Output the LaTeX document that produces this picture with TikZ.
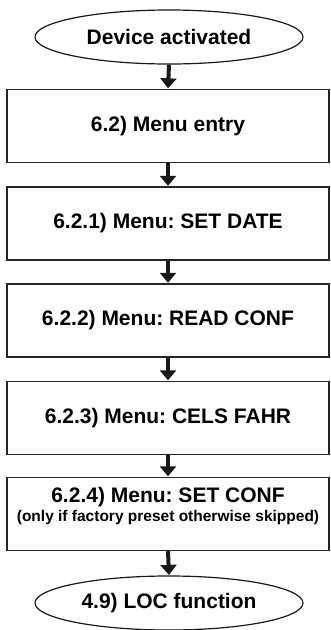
\documentclass[tikz,border=0pt]{standalone}
\usepackage{fontspec}
\setmainfont{Liberation Sans}
\usetikzlibrary{shapes.geometric,arrows.meta}
\frenchspacing
\begin{document}
\frenchspacing
\begin{tikzpicture}[x=1pt,y=-1pt,
  stepbox/.style={draw=black!85, line width=1.4pt, rectangle, minimum width=322pt, minimum height=73pt, inner sep=0pt, font=\bfseries\fontsize{21}{25}\selectfont, align=center},
  term/.style={draw=black!90, line width=1.2pt, ellipse, minimum width=268pt, minimum height=54pt, inner sep=0pt, font=\bfseries\fontsize{21}{25}\selectfont},
  flow/.style={line width=4pt, -{Triangle[width=16pt,length=10pt]}, black!90, shorten >=0.5pt}
]
\useasboundingbox (0,0) rectangle (330,630);
\node[term] (start) at (169,37) {Device activated};
\node[stepbox] (b1) at (168,126) {6.2) Menu entry};
\node[stepbox] (b2) at (168,223.5) {6.2.1) Menu: SET DATE};
\node[stepbox] (b3) at (168,320.5) {6.2.2) Menu: READ CONF};
\node[stepbox] (b4) at (168,418) {6.2.3) Menu: CELS FAHR};
\node[stepbox] (b5) at (168,514) {};
\node[font=\bfseries\fontsize{21}{25}\selectfont, inner sep=0pt] (t5a) at (168,497) {6.2.4) Menu: SET CONF};
\node[font=\bfseries\fontsize{15.5}{18}\selectfont, inner sep=0pt] (t5b) at (168,517) {(only if factory preset otherwise skipped)};
\node[term] (end) at (169,603) {4.9) LOC function};
\draw[flow] (start.south) -- (b1.north);
\draw[flow] (b1.south) -- (b2.north);
\draw[flow] (b2.south) -- (b3.north);
\draw[flow] (b3.south) -- (b4.north);
\draw[flow] (b4.south) -- (b5.north);
\draw[flow] (b5.south) -- (end.north);
\end{tikzpicture}
\end{document}
